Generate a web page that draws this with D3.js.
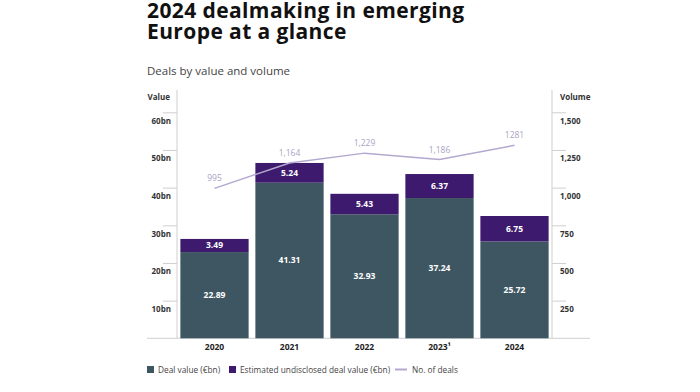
<!DOCTYPE html>
<html><head><meta charset="utf-8">
<script src="https://cdn.jsdelivr.net/npm/d3@7"></script>
<style>
body{margin:0;background:#fff;}
svg{display:block;font-family:"Open Sans","Noto Sans",sans-serif;}
</style></head>
<body><svg id="c" width="700" height="392"></svg>
<script>
const years = ["2020","2021","2022","2023","2024"];
const yearLabels = ["2020","2021","2022","2023¹","2024"];
const dealValue = [22.89, 41.31, 32.93, 37.24, 25.72];
const undisclosed = [3.49, 5.24, 5.43, 6.37, 6.75];
const dealCount = [995, 1164, 1229, 1186, 1281];
const dealCountLabels = ["995","1,164","1,229","1,186","1281"];
const valueTicks = [10,20,30,40,50,60];
const volumeTicks = [250,500,750,1000,1250,1500];

const C_VAL = "#3e5661", C_UND = "#3d1a6e", C_LINE = "#b3a8cf", C_LBL = "#aaa3c3";
const svg = d3.select("#c");

const x = d3.scaleBand().domain(years).range([177, 552]).paddingInner(0.09).paddingOuter(0.045);
const y = d3.scaleLinear().domain([0, 60]).range([338.3, 112.3]);
const yv = d3.scaleLinear().domain([0, 1500]).range([338.3, 112.3]);

// titles
svg.append("text").attr("x",147).attr("y",18).attr("font-size",21).attr("letter-spacing",0.4).attr("font-weight","bold").attr("fill","#111").text("2024 dealmaking in emerging");
svg.append("text").attr("x",147).attr("y",38.5).attr("font-size",21).attr("letter-spacing",0.4).attr("font-weight","bold").attr("fill","#111").text("Europe at a glance");
svg.append("text").attr("x",147).attr("y",75).attr("font-size",11.5).attr("fill","#444").text("Deals by value and volume");

// axes
const grey = "#cfcfcf";
svg.append("line").attr("x1",177).attr("x2",177).attr("y1",90).attr("y2",338.3).attr("stroke",grey);
svg.append("line").attr("x1",552).attr("x2",552).attr("y1",90).attr("y2",338.3).attr("stroke",grey);
svg.append("line").attr("x1",147).attr("x2",590).attr("y1",338.3).attr("y2",338.3).attr("stroke",grey);

const la = d3.axisLeft(y).tickValues(valueTicks).tickSize(14).tickFormat(d=>d+"bn");
const gl = svg.append("g").attr("transform","translate(177,0)").call(la);
gl.select(".domain").remove();
gl.selectAll(".tick line").attr("stroke",grey);
gl.selectAll(".tick text").attr("x",-6).attr("dy",11).attr("font-size",8).attr("font-weight","bold").attr("fill","#333").attr("text-anchor","end").attr("font-family","'Open Sans',sans-serif");

const ra = d3.axisRight(yv).tickValues(volumeTicks).tickSize(14).tickFormat(d3.format(","));
const gr = svg.append("g").attr("transform","translate(552,0)").call(ra);
gr.select(".domain").remove();
gr.selectAll(".tick line").attr("stroke",grey);
gr.selectAll(".tick text").attr("x",8).attr("dy",11).attr("font-size",8).attr("font-weight","bold").attr("fill","#333").attr("text-anchor","start").attr("font-family","'Open Sans',sans-serif");

svg.append("text").attr("x",170).attr("y",100).attr("text-anchor","end").attr("font-size",8).attr("font-weight","bold").attr("fill","#333").text("Value");
svg.append("text").attr("x",560).attr("y",100).attr("font-size",8).attr("font-weight","bold").attr("fill","#333").text("Volume");

// bars
const bw = x.bandwidth();
years.forEach((yr,i)=>{
  const x0 = x(yr);
  svg.append("rect").attr("x",x0).attr("width",bw).attr("y",y(dealValue[i])).attr("height",y(0)-y(dealValue[i])).attr("fill",C_VAL);
  svg.append("rect").attr("x",x0).attr("width",bw).attr("y",y(dealValue[i]+undisclosed[i])).attr("height",y(dealValue[i])-y(dealValue[i]+undisclosed[i])).attr("fill",C_UND);
  svg.append("text").attr("x",x0+bw/2).attr("y",(y(0)+y(dealValue[i]))/2).attr("dy","0.35em").attr("text-anchor","middle").attr("font-size",8.5).attr("font-weight","bold").attr("fill","#fff").text(dealValue[i].toFixed(2));
  svg.append("text").attr("x",x0+bw/2).attr("y",(y(dealValue[i])+y(dealValue[i]+undisclosed[i]))/2).attr("dy","0.35em").attr("text-anchor","middle").attr("font-size",8.5).attr("font-weight","bold").attr("fill","#fff").text(undisclosed[i].toFixed(2));
  svg.append("text").attr("x",x0+bw/2).attr("y",350).attr("text-anchor","middle").attr("font-size",8.5).attr("font-weight","bold").attr("fill","#222").text(yearLabels[i]);
});

// line
const line = d3.line().x((d,i)=>x(years[i])+bw/2).y(d=>yv(d));
svg.append("path").datum(dealCount).attr("d",line).attr("fill","none").attr("stroke",C_LINE).attr("stroke-width",1.5);
dealCount.forEach((d,i)=>{
  svg.append("text").attr("x",x(years[i])+bw/2).attr("y",yv(d)-10).attr("dy","0.35em").attr("text-anchor","middle").attr("font-size",8.5).attr("fill",C_LBL).text(dealCountLabels[i]);
});

// legend
const lg = svg.append("g").attr("font-size",8.3).attr("fill","#444");
lg.append("rect").attr("x",147).attr("y",366).attr("width",7).attr("height",7).attr("fill",C_VAL);
lg.append("text").attr("x",158).attr("y",372.5).text("Deal value (€bn)");
lg.append("rect").attr("x",229).attr("y",366).attr("width",7).attr("height",7).attr("fill",C_UND);
lg.append("text").attr("x",240).attr("y",372.5).text("Estimated undisclosed deal value (€bn)");
lg.append("line").attr("x1",395).attr("x2",407).attr("y1",369.5).attr("y2",369.5).attr("stroke",C_LINE).attr("stroke-width",2);
lg.append("text").attr("x",412).attr("y",372.5).text("No. of deals");
</script></body></html>
